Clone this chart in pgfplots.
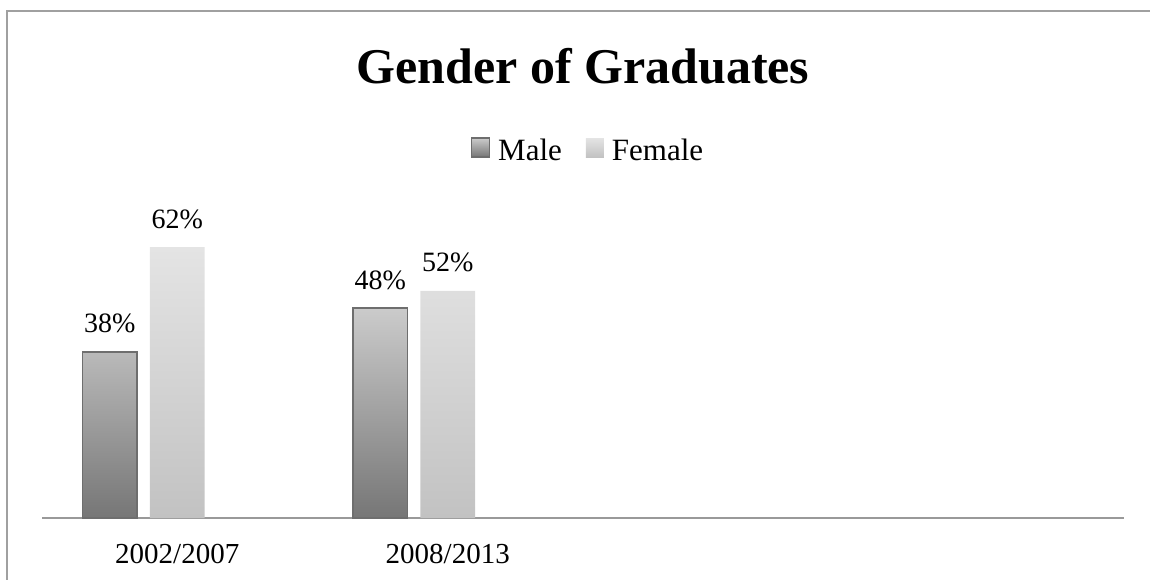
\documentclass[border=0pt]{standalone}
\usepackage{fontspec}
\setmainfont{Liberation Serif}
\usepackage{pgfplots}
\pgfplotsset{compat=1.18}
\definecolor{framegray}{HTML}{A0A0A0}
\definecolor{axisgray}{HTML}{999999}
\definecolor{maletop}{HTML}{CBCBCB}
\definecolor{malebot}{HTML}{767676}
\definecolor{maleedge}{HTML}{6E6E6E}
\definecolor{femtop}{HTML}{E4E4E4}
\definecolor{fembot}{HTML}{C2C2C2}
\begin{document}
\begin{tikzpicture}[x=1pt,y=1pt]
\useasboundingbox (0,0) rectangle (1150,579);
\draw[framegray, line width=1.5pt] (7,-2) -- (7,568) -- (1152,568);
\begin{axis}[
  at={(42pt,61pt)}, anchor=south west,
  scale only axis, width=1082pt, height=437pt,
  xmin=-0.5, xmax=3.5, ymin=0, ymax=100,
  axis y line=none, axis x line*=bottom,
  x axis line style={draw=axisgray, line width=1.5pt, -},
  ybar, bar width=0.203,
  /pgf/number format/assume math mode=true,
  xtick={0,1}, xticklabels={2002/2007,2008/2013},
  major tick length=0pt,
  xticklabel style={font=\fontsize{29}{34}\selectfont, anchor=base, yshift=-45pt},
  title={Gender of Graduates},
  title style={font=\fontsize{50}{58}\selectfont\bfseries, at={(0.5,0.981)}, anchor=base},
  nodes near coords={\pgfmathprintnumber{\pgfplotspointmeta}\%},
  every node near coord/.append style={font=\fontsize{28}{33}\selectfont, anchor=base, yshift=19pt, text=black},
  legend image code/.code={\path[#1] (0pt,-7pt) rectangle (18pt,12pt);},
  legend columns=2,
  legend style={at={(0.5046,0.842)}, anchor=center, draw=none, fill=none,
    font=\fontsize{31}{36}\selectfont,
    /tikz/every odd column/.append style={column sep=6pt},
    /tikz/every even column/.append style={column sep=22pt}},
]
\addplot[top color=maletop, bottom color=malebot, draw=maleedge, line width=1.5pt, bar shift=-0.2496]
  coordinates {(0,38) (1,48)};
\addplot[top color=femtop, bottom color=fembot, draw=none, bar shift=0]
  coordinates {(0,62) (1,52)};
\legend{Male,Female}
\end{axis}
\end{tikzpicture}
\end{document}
